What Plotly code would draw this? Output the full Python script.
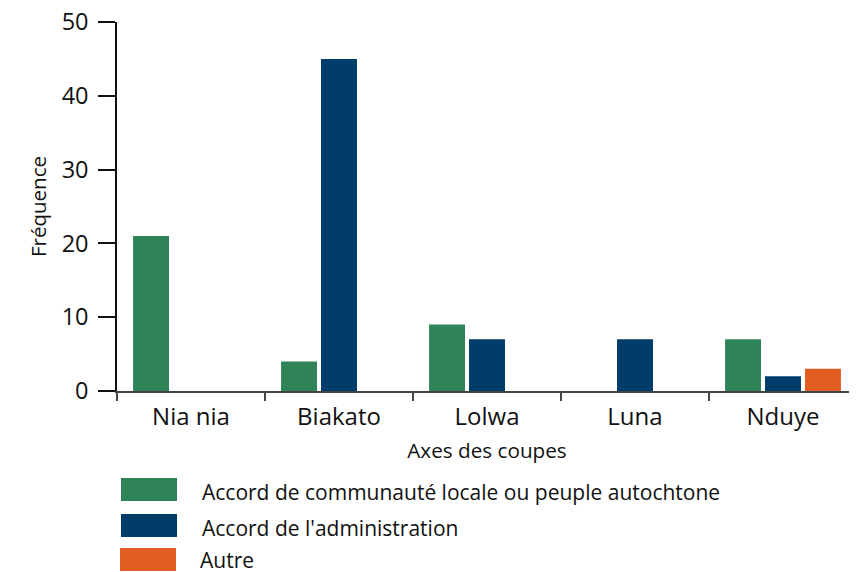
import plotly.graph_objects as go

categories = ["Nia nia", "Biakato", "Lolwa", "Luna", "Nduye"]
series_names = [
    "Accord de communauté locale ou peuple autochtone",
    "Accord de l'administration",
    "Autre",
]
communaute = [21, 4, 9, 0, 7]
administration = [0, 45, 7, 7, 2]
autre = [0, 0, 0, 0, 3]
y_ticks = [0, 10, 20, 30, 40, 50]

colors = ["#2E8457", "#003D6B", "#E05E22"]
FONT = "Open Sans"

OFF = 8  # page body margin
W, H = 857 - OFF, 572 - OFF
L, R, T, B = 117 - OFF, 0, 22 - OFF, 572 - 391

fig = go.Figure()
for name, vals, col in zip(series_names, [communaute, administration, autre], colors):
    fig.add_trace(go.Bar(x=categories, y=vals, name=name, marker_color=col,
                         marker_line_width=0, showlegend=False))

# custom legend (large swatches); coordinates given in screenshot pixels
pw, ph = W - L - R, H - T - B
def px2x(px):
    return (px - OFF - L) / pw
def py2y(py):
    return (H - B - (py - OFF)) / ph

sw = [(121, 478, 177, 501), (121, 514, 177, 537), (120, 548, 176, 571)]
txt = [(200, 492), (200, 528), (198, 560)]
for (x0, y0, x1, y1), (tx, ty), name, col in zip(sw, txt, series_names, colors):
    fig.add_shape(type="rect", xref="paper", yref="paper",
                  x0=px2x(x0), x1=px2x(x1), y0=py2y(y1), y1=py2y(y0),
                  fillcolor=col, line_width=0)
    fig.add_annotation(xref="paper", yref="paper", x=px2x(tx), y=py2y(ty),
                       xanchor="left", yanchor="middle", text=name, showarrow=False,
                       font=dict(family=FONT, size=21, color="#111"))

fig.update_layout(
    width=W, height=H,
    margin=dict(l=L, r=R, t=T, b=B, autoexpand=False),
    paper_bgcolor="white", plot_bgcolor="white",
    barmode="group", bargap=0.19, bargroupgap=0.1,
    font=dict(family=FONT, color="#111"),
)
fig.update_xaxes(
    range=[-0.5, 4.5], showline=True, linecolor="#444", linewidth=1.5,
    ticks="outside", tickson="boundaries", ticklen=8, tickcolor="#444", tickwidth=1.5,
    tickfont=dict(family=FONT, size=24, color="#111"), ticklabelstandoff=3,
    title=dict(text="Axes des coupes", font=dict(family=FONT, size=20.7, color="#111"), standoff=13),
    showgrid=False, zeroline=False, automargin=False,
)
fig.update_yaxes(
    range=[0, 50], tickvals=y_ticks, showline=True, linecolor="#111", linewidth=1.5,
    ticks="outside", ticklen=17, tickcolor="#111", tickwidth=1.5,
    tickfont=dict(family=FONT, size=23.5, color="#111"), ticklabelstandoff=5,
    ticklabeloverflow="allow",
    title=dict(text="Fréquence", font=dict(family=FONT, size=20.5, color="#111"), standoff=9),
    showgrid=False, zeroline=False, automargin=False,
)

fig.write_html("out.html")
